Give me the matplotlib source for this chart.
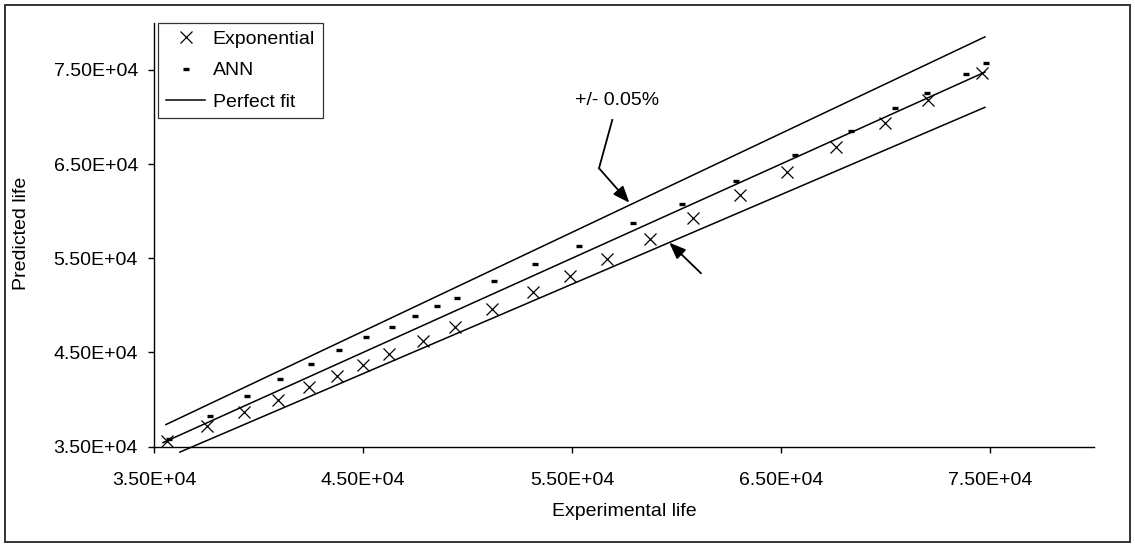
import matplotlib
matplotlib.use("Agg")
import matplotlib.pyplot as plt
from matplotlib.patches import Rectangle
import numpy as np

plt.rcParams["font.family"] = ["Liberation Sans", "DejaVu Sans"]

# experimental vs predicted life
exp_x = [35608, 37550, 39321, 40909, 42392, 43770, 45014, 46258, 47885, 49402, 51158,
         53120, 54904, 56689, 58732, 60775, 63053, 65273, 67632, 69976, 72048, 74632]
exp_y = [35605, 37229, 38652, 39958, 41338, 42537, 43673, 44809, 46253, 47675, 49618,
         51423, 53121, 54894, 57070, 59246, 61720, 64193, 66847, 69395, 71805, 74639]

ann_x = [35718, 37679, 39435, 41029, 42512, 43866, 45129, 46373, 47488, 48541, 49512, 51282,
         53230, 55335, 57895, 60249, 62866, 65670, 68335, 70455, 72000, 73837, 74794]
ann_y = [35817, 38259, 40414, 42134, 43779, 45265, 46614, 47739, 48875, 49904, 50786, 52558,
         54427, 56306, 58747, 60764, 63227, 65966, 68546, 70924, 72516, 74563, 75764]

# perfect fit and +/- band
fit_x = np.array([35430, 74760])
upper_x = np.array([35570, 74760])
lower_x = np.array([36240, 74760])
band = 0.05

ticks = [35000, 45000, 55000, 65000, 75000]
tick_labels = ["3.50E+04", "4.50E+04", "5.50E+04", "6.50E+04", "7.50E+04"]

FS = 14

fig = plt.figure(figsize=(11.35, 5.51), dpi=100)
ax = fig.add_axes([0.1357, 0.1893, 0.8286, 0.7695])

ax.plot(fit_x, fit_x, color="black", lw=1.1, label="Perfect fit", zorder=2)
ax.plot(upper_x, upper_x * (1 + band), color="black", lw=1.1, zorder=2)
ax.plot(lower_x, lower_x * (1 - band), color="black", lw=1.1, zorder=2, clip_on=False)

ax.plot(exp_x, exp_y, ls="none", marker="x", ms=8.6, mew=0.9, color="black",
        label="Exponential", zorder=3, clip_on=False)
ax.plot(ann_x, ann_y, ls="none", marker="_", ms=5, mew=2.4, color="black",
        label="ANN", zorder=3)

# annotation arrows pointing at the band lines
ax.text(57153, 71730, "+/- 0.05%", fontsize=FS, ha="center", va="center")
ax.plot([56928, 56292], [69682, 64554], color="black", lw=1.3)
arrow = dict(arrowstyle="-|>,head_length=1.0,head_width=0.4",
             color="black", lw=1.3, shrinkA=0, shrinkB=0)
ax.annotate("", xy=(57742, 60900), xytext=(56292, 64554), arrowprops=arrow)
ax.annotate("", xy=(59656, 56656), xytext=(61172, 53408), arrowprops=arrow)

ax.set_xlim(35000, 80000)
ax.set_ylim(35000, 80000)
ax.set_xticks(ticks)
ax.set_xticklabels(tick_labels)
ax.set_yticks(ticks)
ax.set_yticklabels(tick_labels)
ax.tick_params(axis="x", direction="out", length=4, width=1, labelsize=FS, pad=14)
ax.tick_params(axis="y", direction="out", length=4.5, width=1, labelsize=FS, pad=7)

for side in ["top", "right"]:
    ax.spines[side].set_visible(False)
for side in ["left", "bottom"]:
    ax.spines[side].set_linewidth(1)

fig.text(0.5497, 1 - 511 / 551, "Experimental life", fontsize=FS, ha="center", va="center")
fig.text(22 / 1135, 1 - 233 / 551, "Predicted life", fontsize=FS, ha="center", va="center",
         rotation=90)

handles, labels = ax.get_legend_handles_labels()
order = [1, 2, 0]
leg = ax.legend([handles[i] for i in order], [labels[i] for i in order],
                loc="upper left", bbox_to_anchor=(158.3 / 1135, 1 - 22.7 / 551),
                bbox_transform=fig.transFigure, borderaxespad=0, fontsize=FS,
                frameon=True, fancybox=False, shadow=False, handlelength=2.0,
                handletextpad=0.4, borderpad=0.4, labelspacing=0.7)
leg.get_frame().set_edgecolor("black")
leg.get_frame().set_linewidth(0.9)

# outer border
fig.patches.append(Rectangle((5 / 1135, 9 / 551), 1125 / 1135, 537 / 551,
                             transform=fig.transFigure, fill=False,
                             edgecolor="#333333", lw=1.4))

fig.savefig("out.png", dpi=100)
